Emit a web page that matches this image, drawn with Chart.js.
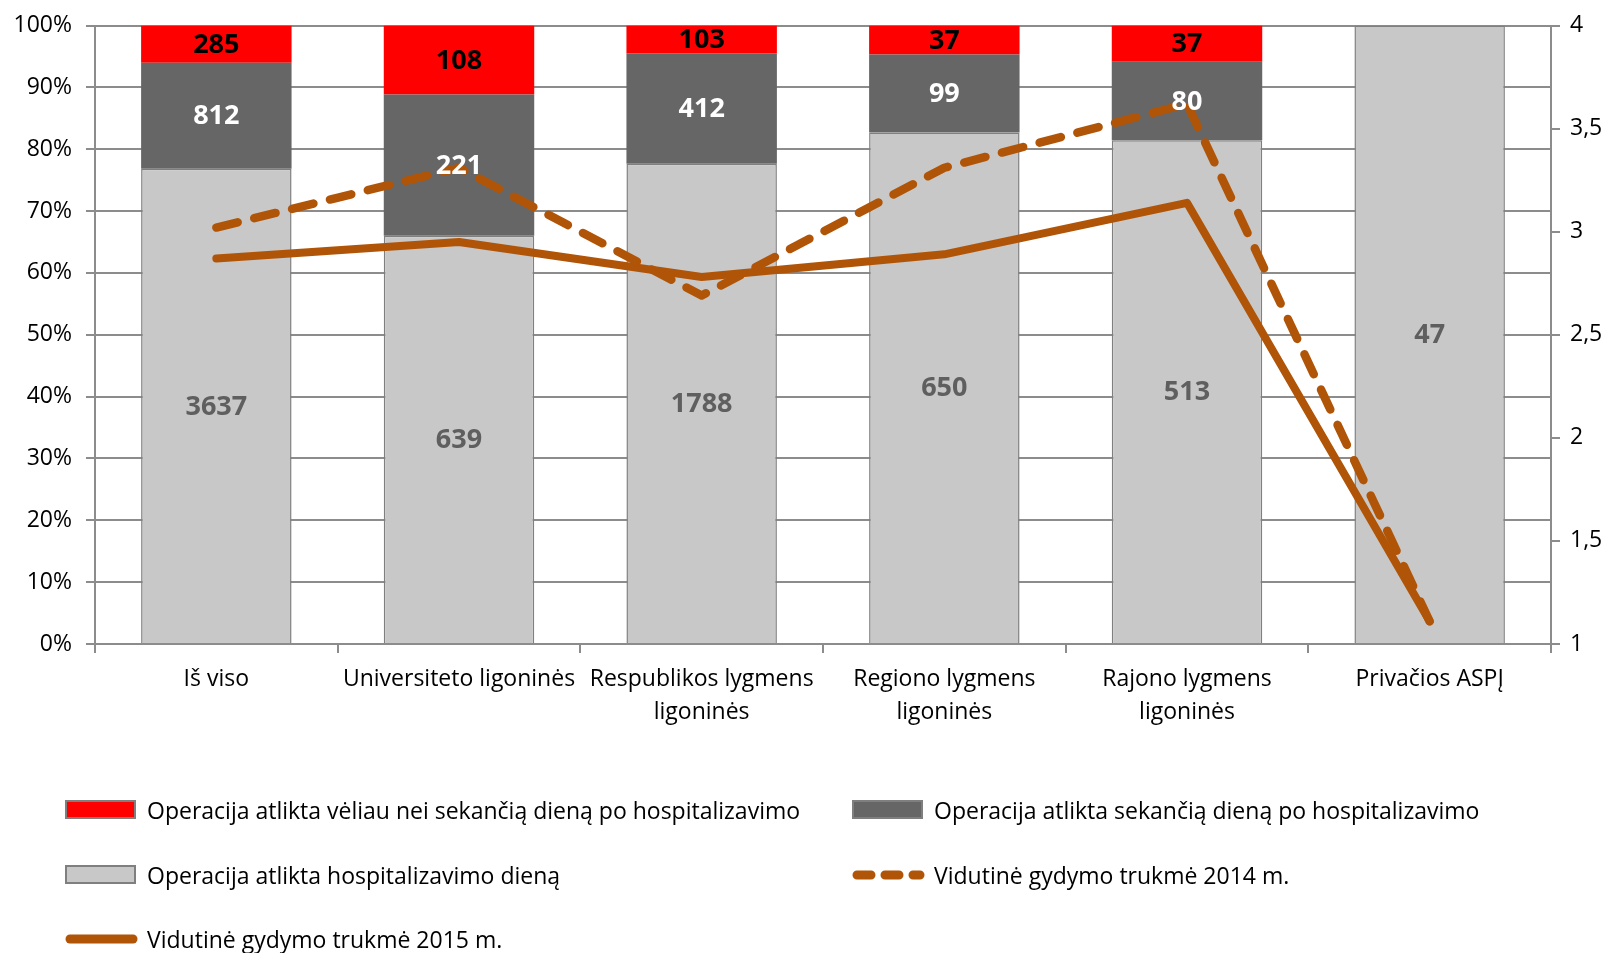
<!DOCTYPE html>
<html lang="lt">
<head>
<meta charset="utf-8">
<title>Operacijų laikas ir vidutinė gydymo trukmė</title>
<script src="https://cdn.jsdelivr.net/npm/chart.js@4/dist/chart.umd.min.js"></script>
<style>
  html, body { margin: 0; padding: 0; background: #fff; }
  #wrap { position: relative; width: 1614px; height: 953px; overflow: hidden; }
  #chart { position: absolute; left: 0; top: 0; }
  .legend { position: absolute; left: 0; top: 0; width: 1614px; height: 953px; pointer-events: none;
    font-family: "Open Sans", sans-serif; font-size: 23px; color: #000; }
  .item { position: absolute; display: flex; align-items: center; height: 30px; white-space: nowrap; }
</style>
</head>
<body>
<div id="wrap">
  <canvas id="chart" width="1614" height="953"></canvas>
  <div class="legend" id="legend"></div>
</div>
<script>
// kategorijos (x ašis)
const categories = [
  ["Iš viso"],
  ["Universiteto ligoninės"],
  ["Respublikos lygmens", "ligoninės"],
  ["Regiono lygmens", "ligoninės"],
  ["Rajono lygmens", "ligoninės"],
  ["Privačios ASPĮ"],
];

// operacijų skaičiai
const sameDayCounts = [3637, 639, 1788, 650, 513, 47];
const nextDayCounts = [812, 221, 412, 99, 80, 0];
const laterCounts = [285, 108, 103, 37, 37, 0];

// vidutinė gydymo trukmė (dešinė ašis)
const stay2014 = [3.02, 3.31, 2.69, 3.31, 3.62, 1.11];
const stay2015 = [2.87, 2.95, 2.78, 2.89, 3.14, 1.11];

const FONT = '"Open Sans", sans-serif';
const LINE_COLOR = "#b05508";
const GRID = "#8c8c8c";

const totals = sameDayCounts.map((v, i) => v + nextDayCounts[i] + laterCounts[i]);
const pct = (arr) => arr.map((v, i) => (v / totals[i]) * 100);

const barLabelColors = ["#5f5f5f", "#ffffff", "#000000"];

// skaičiai ant stulpelių
const barLabels = {
  id: "barLabels",
  afterDatasetsDraw(chart) {
    const ctx = chart.ctx;
    ctx.save();
    ctx.textAlign = "center";
    ctx.textBaseline = "middle";
    chart.data.datasets.forEach((ds, di) => {
      if (ds.type !== "bar") return;
      const meta = chart.getDatasetMeta(di);
      meta.data.forEach((el, i) => {
        const n = ds.counts[i];
        if (!n) return;
        const { x, y, base } = el.getProps(["x", "y", "base"], true);
        ctx.font = "bold 27px " + FONT;
        ctx.fillStyle = barLabelColors[di];
        ctx.fillText(String(n), x, (y + base) / 2 + 1);
      });
    });
    ctx.restore();
  },
};

const datasets = [
  {
    type: "bar", label: "Operacija atlikta hospitalizavimo dieną",
    data: pct(sameDayCounts), counts: sameDayCounts,
    backgroundColor: "#c8c8c8", borderColor: "#7f7f7f", borderWidth: 1.5,
    yAxisID: "y", stack: "s", order: 2,
  },
  {
    type: "bar", label: "Operacija atlikta sekančią dieną po hospitalizavimo",
    data: pct(nextDayCounts), counts: nextDayCounts,
    backgroundColor: "#666666", borderColor: "#666666", borderWidth: 0,
    yAxisID: "y", stack: "s", order: 2,
  },
  {
    type: "bar", label: "Operacija atlikta vėliau nei sekančią dieną po hospitalizavimo",
    data: pct(laterCounts), counts: laterCounts,
    backgroundColor: "#ff0000", borderColor: "#ff0000", borderWidth: 0,
    yAxisID: "y", stack: "s", order: 2,
  },
  {
    type: "line", label: "Vidutinė gydymo trukmė 2014 m.",
    data: stay2014, yAxisID: "y1", stack: "l14", order: 1,
    borderColor: LINE_COLOR, borderWidth: 8.5, borderDash: [22, 17],
    borderCapStyle: "round", borderJoinStyle: "round",
    pointRadius: 0, tension: 0, fill: false,
  },
  {
    type: "line", label: "Vidutinė gydymo trukmė 2015 m.",
    data: stay2015, yAxisID: "y1", stack: "l15", order: 1,
    borderColor: LINE_COLOR, borderWidth: 8,
    borderCapStyle: "round", borderJoinStyle: "round",
    pointRadius: 0, tension: 0, fill: false,
  },
];

const chart = new Chart(document.getElementById("chart"), {
  data: { labels: categories, datasets },
  options: {
    responsive: false,
    animation: false,
    layout: { padding: { top: 24, bottom: 209, left: 0, right: 0 } },
    plugins: { legend: { display: false }, tooltip: { enabled: false } },
    datasets: { bar: { categoryPercentage: 1, barPercentage: 0.62 } },
    scales: {
      x: {
        stacked: true,
        offset: true,
        grid: { offset: true, drawOnChartArea: false, drawTicks: true, tickLength: 9, color: GRID, lineWidth: 2 },
        border: { color: GRID, width: 2 },
        ticks: { color: "#000", font: { family: FONT, size: 23, lineHeight: 1.42 }, padding: 10, maxRotation: 0, autoSkip: false },
        afterFit: (s) => { s.height = 100; },
      },
      y: {
        stacked: true, min: 0, max: 100,
        position: "left",
        grid: { color: GRID, lineWidth: 2, tickLength: 9 },
        border: { color: GRID, width: 2 },
        ticks: { stepSize: 10, callback: (v) => v + "%", color: "#000", font: { family: FONT, size: 23, lineHeight: 1 }, padding: 14 },
        afterFit: (s) => { s.width = 95; },
      },
      y1: {
        min: 1, max: 4,
        position: "right",
        grid: { drawOnChartArea: false, color: GRID, lineWidth: 2, tickLength: 9 },
        border: { color: GRID, width: 2 },
        ticks: { stepSize: 0.5, callback: (v) => String(v).replace(".", ","), color: "#000", font: { family: FONT, size: 23, lineHeight: 1 }, padding: 10 },
        afterFit: (s) => { s.width = 63; },
      },
    },
  },
  plugins: [barLabels],
});

// legenda: du stulpeliai, kaip originale
const legendEl = document.getElementById("legend");
const legendOrder = [2, 1, 0, 3, 4];
const slots = [
  { left: 65, top: 795 }, { left: 852, top: 795 },
  { left: 65, top: 860 }, { left: 852, top: 860 },
  { left: 65, top: 924 },
];
legendOrder.forEach((di, k) => {
  const ds = chart.data.datasets[di];
  const item = document.createElement("div");
  item.className = "item";
  item.style.left = slots[k].left + "px";
  item.style.top = slots[k].top + "px";
  const mark = document.createElement("canvas");
  mark.width = 76; mark.height = 20;
  mark.style.marginRight = "6px";
  const c = mark.getContext("2d");
  if (ds.type === "bar") {
    c.fillStyle = ds.backgroundColor;
    c.fillRect(1, 1, 69, 17);
    c.strokeStyle = "#7f7f7f"; c.lineWidth = 2;
    c.strokeRect(1, 1, 69, 17);
  } else {
    c.strokeStyle = ds.borderColor;
    c.lineCap = "round";
    c.lineWidth = 9;
    if (ds.borderDash) c.setLineDash([14, 14]);
    c.beginPath(); c.moveTo(5, 10); c.lineTo(68, 10); c.stroke();
  }
  const txt = document.createElement("span");
  txt.textContent = ds.label;
  item.appendChild(mark);
  item.appendChild(txt);
  legendEl.appendChild(item);
});
</script>
</body>
</html>
